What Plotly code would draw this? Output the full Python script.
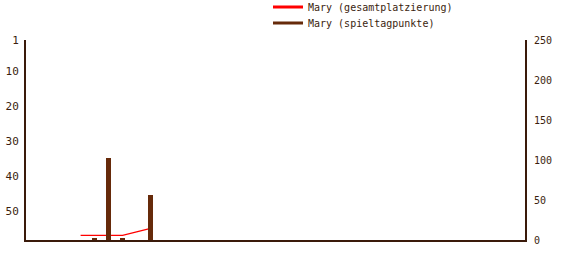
import plotly.graph_objects as go

matchdays_rank = [4, 5, 6, 7, 8, 9]
ranks = [57, 57, 57, 57, 56, 55]
matchdays_pts = [4, 5, 6, 7, 8, 9]
points = [0, 2, 102, 2, 0, 56]

left_ticks = [1, 10, 20, 30, 40, 50]
right_ticks = [0, 50, 100, 150, 200, 250]

axis_col = "#3a1a0a"
text_col = "#3b1e0e"
bar_col = "#662a0a"
font = "DejaVu Sans Mono"

fig = go.Figure()
fig.add_trace(go.Bar(x=matchdays_pts, y=points, yaxis="y2", marker=dict(color=bar_col, line=dict(width=0)),
                     width=0.36, showlegend=False, name="Mary (spieltagpunkte)"))
fig.add_trace(go.Scatter(x=matchdays_rank, y=ranks, mode="lines", line=dict(color="#ff0000", width=1.3),
                         showlegend=False, name="Mary (gesamtplatzierung)"))
fig.add_trace(go.Scatter(x=[None], y=[None], mode="lines", line=dict(color="#ff0000", width=3),
                         name="Mary (gesamtplatzierung)", legend="legend"))
fig.add_trace(go.Scatter(x=[None], y=[None], mode="lines", line=dict(color=bar_col, width=3),
                         name="Mary (spieltagpunkte)", legend="legend2"))

leg_common = dict(x=(268 - 26) / 499, xanchor="left", yanchor="top", yref="paper",
                  bgcolor="rgba(0,0,0,0)", font=dict(size=10, family=font, color=text_col))

fig.update_layout(
    width=575, height=280,
    margin=dict(l=26, r=50, t=40, b=40, autoexpand=False),
    paper_bgcolor="white", plot_bgcolor="white",
    font=dict(family=font, size=10, color=text_col),
    xaxis=dict(range=[0.1, 35.75], showticklabels=False, ticks="", showgrid=False, zeroline=False,
               showline=True, linecolor=axis_col, linewidth=2),
    yaxis=dict(range=[58.3, 1], tickvals=left_ticks, showgrid=False, zeroline=False,
               showline=True, linecolor=axis_col, linewidth=2, ticks="", ticklabelstandoff=3,
               tickfont=dict(size=11, family=font, color=text_col)),
    yaxis2=dict(range=[0, 250], overlaying="y", side="right", tickvals=right_ticks, showgrid=False,
                zeroline=False, showline=True, linecolor=axis_col, linewidth=2, ticks="", ticklabelstandoff=5,
                tickfont=dict(size=10, family=font, color=text_col)),
    legend=dict(y=1.2375, **leg_common),
    legend2=dict(y=1.1575, **leg_common),
    bargap=0,
)
fig.write_html("out.html")
